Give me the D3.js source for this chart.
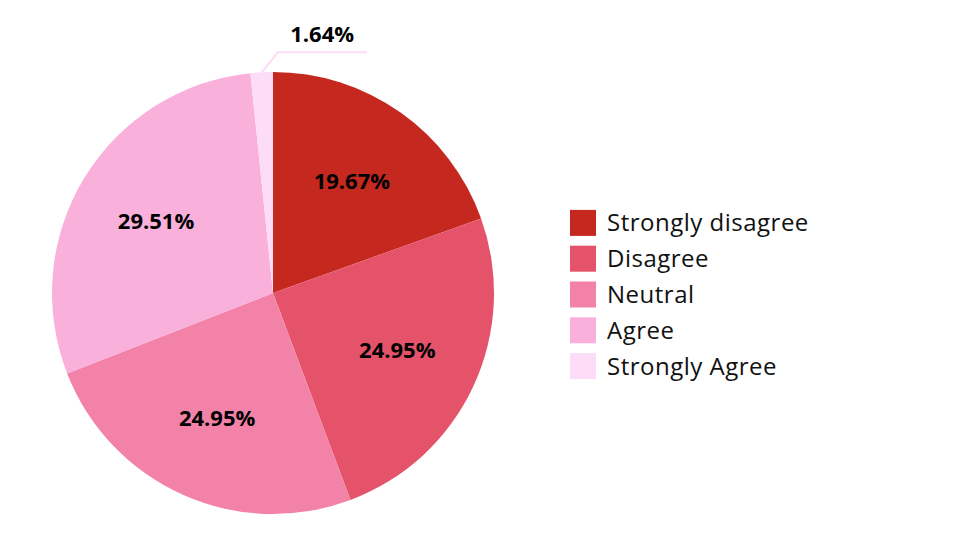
<!DOCTYPE html>
<html><head><meta charset="utf-8">
<script src="https://cdn.jsdelivr.net/npm/d3@7"></script>
<style>body{margin:0;background:#fff}text{font-family:"Open Sans",sans-serif}</style>
</head><body><svg id="chart" width="980" height="551"></svg>
<script>
const categories = ["Strongly disagree", "Disagree", "Neutral", "Agree", "Strongly Agree"];
const values = [19.67, 24.95, 24.95, 29.51, 1.64];
const colors = ["#c5281f", "#e45369", "#f382a8", "#f9b0db", "#fddcf8"];

const svg = d3.select("#chart");
const cx = 273, cy = 293, r = 221;
const g = svg.append("g").attr("transform", `translate(${cx},${cy})`);

const pie = d3.pie().sort(null).value(d => d);
const arcs = pie(values);
const arc = d3.arc().innerRadius(0).outerRadius(r);
const labelArc = d3.arc().innerRadius(r * 0.62).outerRadius(r * 0.62);

g.selectAll("path").data(arcs).enter().append("path")
  .attr("d", arc).attr("fill", (d, i) => colors[i]);

// big slices labelled inside
g.selectAll("text.lbl").data(arcs.filter(d => d.data > 5)).enter().append("text")
  .attr("class", "lbl")
  .attr("transform", d => `translate(${labelArc.centroid(d)})`)
  .attr("text-anchor", "middle").attr("dy", "0.35em")
  .style("font-size", "22px").style("font-weight", "bold").attr("fill", "#000")
  .text(d => d.data.toFixed(2) + "%");

// small slice with leader line
arcs.filter(d => d.data <= 5).forEach(d => {
  const a = (d.startAngle + d.endAngle) / 2;
  const p0 = [Math.sin(a) * r, -Math.cos(a) * r];
  const p1 = [p0[0] + 16, p0[1] - 20];
  const p2 = [p1[0] + 89, p1[1]];
  g.append("polyline").attr("points", [p0, p1, p2].map(p => p.join(",")).join(" "))
    .attr("fill", "none").attr("stroke", colors[4]).attr("stroke-width", 2);
  g.append("text").attr("x", (p1[0] + p2[0]) / 2).attr("y", p1[1] - 10)
    .attr("text-anchor", "middle")
    .style("font-size", "22px").style("font-weight", "bold").attr("fill", "#000")
    .text(d.data.toFixed(2) + "%");
});

const y = d3.scaleBand().domain(categories).range([205, 384]);
const leg = svg.append("g").selectAll("g").data(categories).enter().append("g")
  .attr("transform", d => `translate(570,${y(d) + y.bandwidth() / 2})`);
leg.append("rect").attr("x", 0).attr("y", -13).attr("width", 26).attr("height", 26)
  .attr("fill", (d, i) => colors[i]);
leg.append("text").attr("x", 37).attr("dy", "0.35em")
  .style("font-size", "24px").style("letter-spacing", "0.5px").attr("fill", "#111").text(d => d);
</script></body></html>
